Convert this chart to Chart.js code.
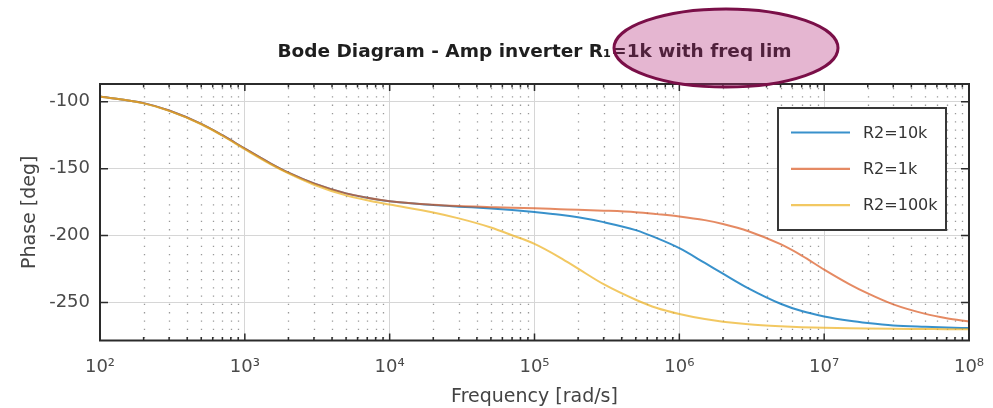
<!DOCTYPE html>
<html lang="en">
<head>
<meta charset="UTF-8">
<title>Bode Diagram - Amp inverter</title>
<script src="https://cdn.jsdelivr.net/npm/chart.js"></script>
<style>
    html, body { margin: 0; padding: 0; background: #fff; }
    .grafico { width: 993px; height: 408px; }
</style>
</head>
<body>
<div class="grafico"><canvas id="bode"></canvas></div>
<script>
    // frequencias em rad/s
    var frequencias = [1e2, 2e2, 3e2, 5e2, 7e2, 1e3, 1.5e3, 2e3, 3e3, 5e3, 7e3, 1e4,
                       2e4, 3e4, 5e4, 7e4, 1e5, 1.5e5, 2e5, 3e5, 5e5, 7e5, 1e6,
                       1.5e6, 2e6, 3e6, 5e6, 7e6, 1e7, 1.5e7, 2e7, 3e7, 5e7, 7e7, 1e8];
    // fase em graus
    var faseR2_10k = [-96, -101, -106.5, -116.5, -125, -135, -146, -153, -161, -168.5, -171.7, -174.4,
                      -177.2, -178.4, -179.8, -181, -182.5, -184.5, -186.4, -190, -196, -202, -209.5,
                      -220.5, -228.5, -239.5, -251, -256.5, -260.5, -263.8, -265.5, -267.3, -268.3, -268.8, -269.2];
    var faseR2_1k = [-96, -101, -106.5, -116.5, -125, -135, -146, -153, -161, -168.5, -171.7, -174.3,
                     -177, -178, -178.8, -179.3, -179.7, -180.3, -180.7, -181.4, -182.6, -184, -185.7,
                     -188.5, -191.4, -196.8, -206.5, -215, -225.5, -236.5, -243.3, -251.5, -258.6, -261.8, -264.3];
    var faseR2_100k = [-96, -101.2, -106.8, -116.8, -125.4, -135.5, -146.6, -153.6, -162, -170, -173.6, -176.8,
                       -182.8, -187.2, -194, -199.8, -206.3, -216.5, -224.8, -236.4, -248, -254.2, -258.7,
                       -262.5, -264.4, -266.3, -267.8, -268.5, -269, -269.4, -269.6, -269.8, -269.9, -270, -270];
    var nomes = ['R2=10k', 'R2=1k', 'R2=100k'];
    var cores = ['rgba(0,114,189,0.78)', 'rgba(217,83,25,0.68)', 'rgba(237,177,32,0.7)'];
    var ticksX = [1e2, 1e3, 1e4, 1e5, 1e6, 1e7, 1e8];
    var rotulosX = ['10²', '10³', '10⁴', '10⁵', '10⁶', '10⁷', '10⁸'];
    var menoresX = [];
    var ticksY = [-250, -200, -150, -100];
    var titulo = 'Bode Diagram - Amp inverter R₁=1k with freq lim';

    for (var d = 0; d < ticksX.length - 1; d++) {
        for (var m = 2; m <= 9; m++) {
            menoresX.push(ticksX[d] * m);
        }
    }

    function pontos(fase) {
        return frequencias.map(function (f, i) { return {x: f, y: fase[i]}; });
    }

    const moldura = {
        id: 'moldura',
        beforeDatasetsDraw(chart) {
            const ctx = chart.ctx, a = chart.chartArea, sx = chart.scales.x;
            ctx.save();
            ctx.strokeStyle = '#999';
            ctx.lineWidth = 1.3;
            ctx.setLineDash([1.3, 7]);
            menoresX.forEach(function (v) {
                const px = Math.round(sx.getPixelForValue(v)) + 0.5;
                ctx.beginPath();
                ctx.moveTo(px, a.top + 4);
                ctx.lineTo(px, a.bottom);
                ctx.stroke();
            });
            ctx.restore();
        },
        afterDraw(chart) {
            const ctx = chart.ctx, a = chart.chartArea;
            const sx = chart.scales.x, sy = chart.scales.y;
            ctx.save();
            // caixa do grafico
            ctx.strokeStyle = '#2b2b2b';
            ctx.lineWidth = 2;
            ctx.strokeRect(a.left, a.top, a.right - a.left, a.bottom - a.top);
            ctx.lineWidth = 1.5;
            ctx.beginPath();
            ticksX.forEach(function (v) {
                const px = sx.getPixelForValue(v);
                ctx.moveTo(px, a.bottom); ctx.lineTo(px, a.bottom - 7);
                ctx.moveTo(px, a.top); ctx.lineTo(px, a.top + 7);
            });
            menoresX.forEach(function (v) {
                const px = sx.getPixelForValue(v);
                ctx.moveTo(px, a.bottom); ctx.lineTo(px, a.bottom - 3.5);
                ctx.moveTo(px, a.top); ctx.lineTo(px, a.top + 3.5);
            });
            ticksY.forEach(function (v) {
                const py = sy.getPixelForValue(v);
                ctx.moveTo(a.left, py); ctx.lineTo(a.left + 8, py);
                ctx.moveTo(a.right, py); ctx.lineTo(a.right - 8, py);
            });
            ctx.stroke();

            // legenda
            const lx = a.right - 191, ly = a.top + 24, lw = 168, lh = 122;
            ctx.fillStyle = '#fff';
            ctx.fillRect(lx, ly, lw, lh);
            ctx.strokeStyle = '#383838';
            ctx.lineWidth = 2;
            ctx.strokeRect(lx, ly, lw, lh);
            ctx.font = '16px "DejaVu Sans"';
            ctx.textBaseline = 'middle';
            ctx.textAlign = 'left';
            chart.data.datasets.forEach(function (ds, i) {
                const yy = ly + 24.5 + i * 36.3;
                ctx.strokeStyle = ds.borderColor;
                ctx.lineWidth = 2.2;
                ctx.beginPath();
                ctx.moveTo(lx + 13, yy); ctx.lineTo(lx + 72, yy);
                ctx.stroke();
                ctx.fillStyle = '#333';
                ctx.fillText(ds.label, lx + 85, yy + 1);
            });

            // titulo
            ctx.font = 'bold 18.5px "DejaVu Sans"';
            ctx.fillStyle = '#1e1e1e';
            ctx.textAlign = 'center';
            ctx.textBaseline = 'alphabetic';
            ctx.fillText(titulo, (a.left + a.right) / 2, 57);

            // marca em elipse sobre o titulo
            ctx.beginPath();
            ctx.ellipse(726, 48, 112, 39, 0, 0, Math.PI * 2);
            ctx.fillStyle = 'rgba(180,40,120,0.34)';
            ctx.fill();
            ctx.strokeStyle = '#7a0f48';
            ctx.lineWidth = 3;
            ctx.stroke();
            ctx.restore();
        }
    };

    const dados = {
        datasets: [
            {label: nomes[0], data: pontos(faseR2_10k), borderColor: cores[0], order: 2},
            {label: nomes[1], data: pontos(faseR2_1k), borderColor: cores[1], order: 1},
            {label: nomes[2], data: pontos(faseR2_100k), borderColor: cores[2], order: 0}
        ]
    };

    const config = {
        type: 'line',
        data: dados,
        options: {
            responsive: true,
            maintainAspectRatio: false,
            animation: false,
            devicePixelRatio: 1,
            layout: {padding: {top: 84, right: 24, left: 0, bottom: 0}},
            elements: {
                point: {radius: 0},
                line: {borderWidth: 2, cubicInterpolationMode: 'monotone', fill: false}
            },
            plugins: {
                legend: {display: false},
                title: {display: false},
                tooltip: {enabled: false}
            },
            scales: {
                x: {
                    type: 'logarithmic',
                    min: 1e2,
                    max: 1e8,
                    afterBuildTicks: function (scale) {
                        scale.ticks = ticksX.map(function (v) { return {value: v}; });
                    },
                    afterFit: function (scale) {
                        scale.height = 67.5;
                        scale.paddingLeft = 0;
                        scale.paddingRight = 0;
                    },
                    ticks: {
                        autoSkip: false,
                        maxRotation: 0,
                        padding: 16,
                        color: '#4a4a4a',
                        font: {family: 'DejaVu Sans', size: 18},
                        callback: function (v, i) { return rotulosX[i]; }
                    },
                    grid: {color: '#d6d6d6', lineWidth: 1, drawTicks: false},
                    border: {display: false},
                    title: {
                        display: true,
                        text: 'Frequency [rad/s]',
                        color: '#444',
                        font: {family: 'DejaVu Sans', size: 19},
                        padding: {top: 0, bottom: 0}
                    }
                },
                y: {
                    type: 'linear',
                    min: -278.5,
                    max: -86.7,
                    afterBuildTicks: function (scale) {
                        scale.ticks = ticksY.map(function (v) { return {value: v}; });
                    },
                    afterFit: function (scale) {
                        scale.width = 100;
                        scale.paddingTop = 0;
                        scale.paddingBottom = 0;
                    },
                    ticks: {
                        padding: 10,
                        color: '#4a4a4a',
                        font: {family: 'DejaVu Sans', size: 18},
                        callback: function (v) { return String(v); }
                    },
                    grid: {color: '#d6d6d6', lineWidth: 1, drawTicks: false},
                    border: {display: false},
                    title: {
                        display: true,
                        text: 'Phase [deg]',
                        color: '#444',
                        font: {family: 'DejaVu Sans', size: 19},
                        padding: {top: 18.5, bottom: 0}
                    }
                }
            }
        },
        plugins: [moldura]
    };

    var grafico = new Chart(document.getElementById('bode'), config);
</script>
</body>
</html>
